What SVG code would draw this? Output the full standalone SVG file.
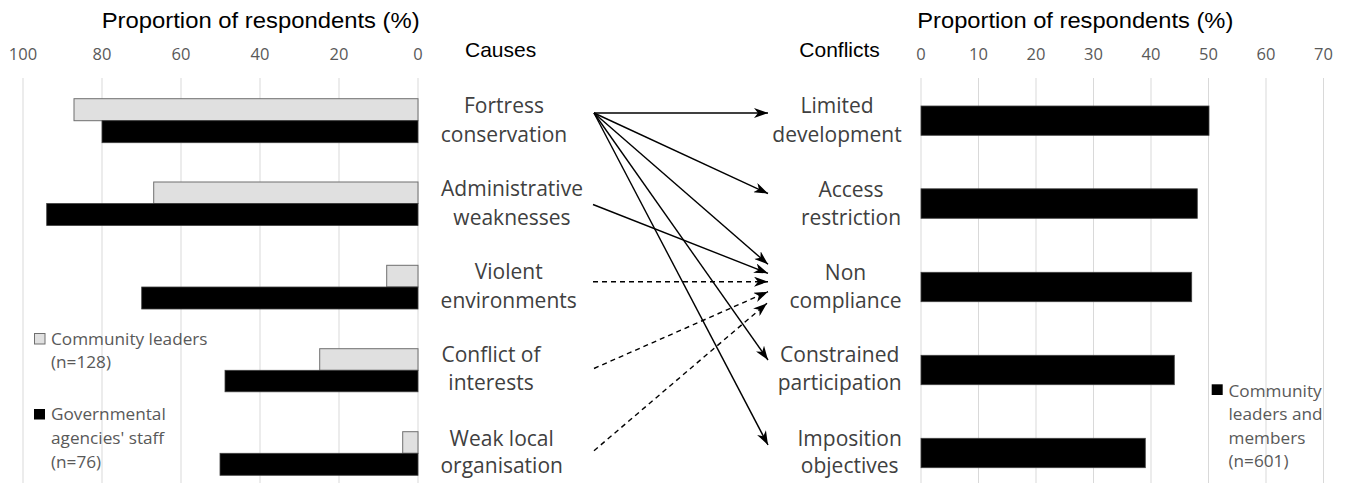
<svg xmlns="http://www.w3.org/2000/svg" width="1348" height="483" viewBox="0 0 1348 483">
<style>
.title{font-family:"Liberation Sans",Arial,sans-serif;font-size:22px;fill:#000}
.head{font-family:"Liberation Sans",Arial,sans-serif;font-size:21px;fill:#000}
.tick{font-family:"Open Sans","DejaVu Sans",sans-serif;font-size:16.5px;fill:#595959;text-anchor:middle}
.lbl{font-family:"Open Sans","DejaVu Sans",sans-serif;font-size:21px;fill:#404040;text-anchor:middle}
.leg{font-family:"Open Sans","DejaVu Sans",sans-serif;font-size:17.2px;fill:#595959}
.grid{stroke:#d9d9d9;stroke-width:1}
.gbar{fill:#e0e0e0;stroke:#6f6f6f;stroke-width:1}
.bbar{fill:#000;stroke:#404040;stroke-width:0.8}
.conn{stroke:#000;stroke-width:1.4;fill:none;marker-end:url(#ah)}
.dash{stroke-dasharray:5 4}
</style>
<defs>
<marker id="ah" viewBox="0 0 14 10" refX="14" refY="5" markerWidth="14" markerHeight="10" markerUnits="userSpaceOnUse" orient="auto">
<path d="M0,0 L14,5 L0,10 L4,5 z" fill="#000"/>
</marker>
</defs>
<rect width="1348" height="483" fill="#fff"/>

<g id="left-chart">
<text class="title" x="101.7" y="28.3" textLength="318" lengthAdjust="spacingAndGlyphs">Proportion of respondents (%)</text>
<g>
<text class="tick" x="23" y="60">100</text>
<text class="tick" x="102" y="60">80</text>
<text class="tick" x="181" y="60">60</text>
<text class="tick" x="260" y="60">40</text>
<text class="tick" x="339" y="60">20</text>
<text class="tick" x="418" y="60">0</text>
</g>
<g>
<line class="grid" x1="23" y1="78" x2="23" y2="483"/>
<line class="grid" x1="102" y1="78" x2="102" y2="483"/>
<line class="grid" x1="181" y1="78" x2="181" y2="483"/>
<line class="grid" x1="260" y1="78" x2="260" y2="483"/>
<line class="grid" x1="339" y1="78" x2="339" y2="483"/>
<line class="grid" x1="418" y1="78" x2="418" y2="483"/>
</g>
<rect class="gbar" x="74" y="98.7" width="344" height="22"/>
<rect class="bbar" x="102" y="120.7" width="316" height="22"/>
<rect class="gbar" x="153.7" y="182" width="264.3" height="21.5"/>
<rect class="bbar" x="46.7" y="203.5" width="371.3" height="22"/>
<rect class="gbar" x="386.7" y="265.3" width="31.3" height="21.7"/>
<rect class="bbar" x="141.7" y="287" width="276.3" height="22"/>
<rect class="gbar" x="319.7" y="348.7" width="98.3" height="21.6"/>
<rect class="bbar" x="225" y="370.3" width="193" height="21.5"/>
<rect class="gbar" x="402.7" y="431.7" width="15.3" height="21.6"/>
<rect class="bbar" x="220" y="453.3" width="198" height="22"/>
<g id="left-legend">
<rect class="gbar" x="34.5" y="333.5" width="10.5" height="10.5"/>
<text class="leg" x="51" y="345">Community leaders</text>
<text class="leg" x="51" y="368">(n=128)</text>
<rect x="34" y="409" width="11" height="10.5" fill="#000"/>
<text class="leg" x="51" y="420">Governmental</text>
<text class="leg" x="51" y="444">agencies' staff</text>
<text class="leg" x="51" y="468">(n=76)</text>
</g>
</g>

<g id="right-chart">
<text class="title" x="917.3" y="28.3" textLength="316" lengthAdjust="spacingAndGlyphs">Proportion of respondents (%)</text>
<g>
<text class="tick" x="921" y="59.5">0</text>
<text class="tick" x="978.5" y="59.5">10</text>
<text class="tick" x="1036" y="59.5">20</text>
<text class="tick" x="1093.5" y="59.5">30</text>
<text class="tick" x="1151" y="59.5">40</text>
<text class="tick" x="1208.5" y="59.5">50</text>
<text class="tick" x="1266" y="59.5">60</text>
<text class="tick" x="1323.5" y="59.5">70</text>
</g>
<g>
<line class="grid" x1="921" y1="78" x2="921" y2="483"/>
<line class="grid" x1="978.5" y1="78" x2="978.5" y2="483"/>
<line class="grid" x1="1036" y1="78" x2="1036" y2="483"/>
<line class="grid" x1="1093.5" y1="78" x2="1093.5" y2="483"/>
<line class="grid" x1="1151" y1="78" x2="1151" y2="483"/>
<line class="grid" x1="1208.5" y1="78" x2="1208.5" y2="483"/>
<line class="grid" x1="1266" y1="78" x2="1266" y2="483"/>
<line class="grid" x1="1323.5" y1="78" x2="1323.5" y2="483"/>
</g>
<rect class="bbar" x="921" y="106" width="288" height="29.3"/>
<rect class="bbar" x="921" y="188.8" width="276.3" height="29.5"/>
<rect class="bbar" x="921" y="272.3" width="270.7" height="29.4"/>
<rect class="bbar" x="921" y="355.3" width="253.3" height="29.4"/>
<rect class="bbar" x="921" y="438.3" width="224.3" height="29.4"/>
<g id="right-legend">
<rect x="1211.7" y="384.3" width="11" height="10.7" fill="#000"/>
<text class="leg" x="1228.5" y="396.7">Community</text>
<text class="leg" x="1228.5" y="420">leaders and</text>
<text class="leg" x="1228.5" y="443.5">members</text>
<text class="leg" x="1228.5" y="467">(n=601)</text>
</g>
</g>

<text class="head" x="465" y="56.7">Causes</text>
<text class="head" x="799.3" y="56.7">Conflicts</text>

<g id="cause-fortress"><text class="lbl" x="504" y="112.7">Fortress</text><text class="lbl" x="504" y="141.7">conservation</text></g>
<g id="cause-admin"><text class="lbl" x="512" y="196">Administrative</text><text class="lbl" x="512" y="225">weaknesses</text></g>
<g id="cause-violent"><text class="lbl" x="508.7" y="279.3">Violent</text><text class="lbl" x="508.7" y="308.3">environments</text></g>
<g id="cause-conflict"><text class="lbl" x="491" y="361.7">Conflict of</text><text class="lbl" x="491" y="390">interests</text></g>
<g id="cause-weak"><text class="lbl" x="501.7" y="445.7">Weak local</text><text class="lbl" x="501.7" y="473.3">organisation</text></g>

<g id="conf-limited"><text class="lbl" x="837" y="113.3">Limited</text><text class="lbl" x="837" y="141.7">development</text></g>
<g id="conf-access"><text class="lbl" x="851" y="196.7">Access</text><text class="lbl" x="851" y="224.5">restriction</text></g>
<g id="conf-non"><text class="lbl" x="845.5" y="279.5">Non</text><text class="lbl" x="845.5" y="307.5">compliance</text></g>
<g id="conf-constrained"><text class="lbl" x="839.7" y="361.7">Constrained</text><text class="lbl" x="839.7" y="389.5">participation</text></g>
<g id="conf-imposition"><text class="lbl" x="849.7" y="446">Imposition</text><text class="lbl" x="849.7" y="472.7">objectives</text></g>

<g id="connectors">
<line class="conn" x1="594" y1="113" x2="768" y2="113"/>
<line class="conn" x1="594" y1="113" x2="768" y2="193.5"/>
<line class="conn" x1="594" y1="113" x2="768" y2="264.3"/>
<line class="conn" x1="594" y1="113" x2="768" y2="360"/>
<line class="conn" x1="594" y1="113" x2="768" y2="445"/>
<line class="conn" x1="593" y1="204.5" x2="768" y2="273.3"/>
<line class="conn dash" x1="593" y1="281.7" x2="768" y2="281.7"/>
<line class="conn dash" x1="594" y1="368.5" x2="768" y2="291.7"/>
<line class="conn dash" x1="594" y1="450.7" x2="767" y2="303.3"/>
</g>
</svg>
